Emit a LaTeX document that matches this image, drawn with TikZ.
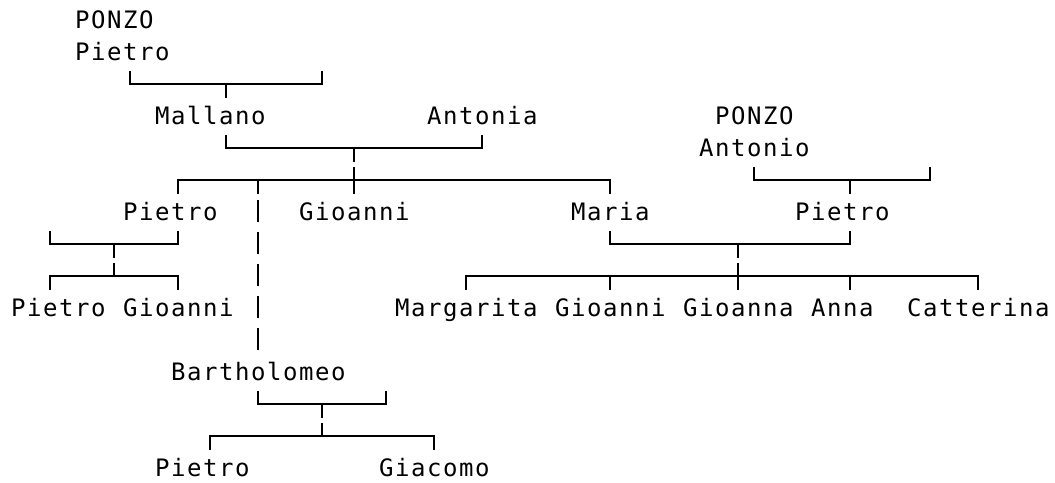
\documentclass[tikz,border=0pt]{standalone}
\usepackage{fontspec}
\setmonofont[LetterSpace=6.5]{DejaVu Sans Mono}

\tikzset{
  person/.style={font=\ttfamily\fontsize{18pt}{20pt}\selectfont, anchor=base west, inner sep=0pt},
  link/.style={line width=1.5pt},
}
% grid: one column = one character, one row = one text line
\newcommand{\pers}[4]{\node[person] (#1) at (#2-0.45,#3+0.26) {#4};}
\newcommand{\joinup}[3]{\draw[link] (#2,#1-0.41) -- (#2,#1) -- (#3,#1) -- (#3,#1-0.41);}
\newcommand{\joindown}[3]{\draw[link] (#2,#1+0.44) -- (#2,#1) -- (#3,#1) -- (#3,#1+0.44);}
\newcommand{\tickup}[2]{\draw[link] (#2,#1) -- (#2,#1-0.41);}
\newcommand{\tickdown}[2]{\draw[link] (#2,#1) -- (#2,#1+0.44);}
\newcommand{\pipe}[2]{\draw[link] (#2,#1-0.375) -- (#2,#1+0.31);}

\begin{document}
\begin{tikzpicture}[x=12pt, y=-24pt]
        \useasboundingbox (-1.125,-0.625) rectangle (64.8125,14.4375);

        % capostipiti
        \pers{ponzoP}{4}{0}{PONZO}
        \pers{pietroP}{4}{1}{Pietro}
        \pers{mallano}{9}{3}{Mallano}
        \pers{antonia}{26}{3}{Antonia}
        \pers{ponzoA}{44}{3}{PONZO}
        \pers{antonio}{43}{4}{Antonio}

        % figli di Mallano e Antonia
        \pers{pietroM}{7}{6}{Pietro}
        \pers{gioanniM}{18}{6}{Gioanni}
        \pers{maria}{35}{6}{Maria}
        \pers{pietroA}{49}{6}{Pietro}
        \pers{bartholomeo}{10}{11}{Bartholomeo}

        % nipoti
        \pers{pietroN}{0}{9}{Pietro}
        \pers{gioanniN}{7}{9}{Gioanni}
        \pers{margarita}{24}{9}{Margarita}
        \pers{gioanniC}{34}{9}{Gioanni}
        \pers{gioanna}{42}{9}{Gioanna}
        \pers{anna}{50}{9}{Anna}
        \pers{catterina}{56}{9}{Catterina}
        \pers{pietroB}{9}{14}{Pietro}
        \pers{giacomo}{23}{14}{Giacomo}

        % Pietro -> Mallano
        \joinup{2}{7}{19} \tickdown{2}{13}
        % Mallano + Antonia
        \joinup{4}{13}{29} \tickdown{4}{21}
        \joindown{5}{10}{37} \tickup{5}{21} \tickdown{5}{21} \tickdown{5}{15}
        % Antonio -> Pietro
        \joinup{5}{46}{57} \tickdown{5}{52}

        % Pietro (figlio)
        \joinup{7}{2}{10} \tickdown{7}{6}
        \joindown{8}{2}{10} \tickup{8}{6}

        % Maria + Pietro
        \joinup{7}{37}{52} \tickdown{7}{45}
        \joindown{8}{28}{60} \tickdown{8}{37} \tickup{8}{45} \tickdown{8}{45} \tickdown{8}{52}

        % linea verso Bartholomeo
        \foreach \r in {6,...,10} {\pipe{\r}{15}}

        % Bartholomeo
        \joinup{12}{15}{23} \tickdown{12}{19}
        \joindown{13}{12}{26} \tickup{13}{19}
    \end{tikzpicture}
\end{document}
